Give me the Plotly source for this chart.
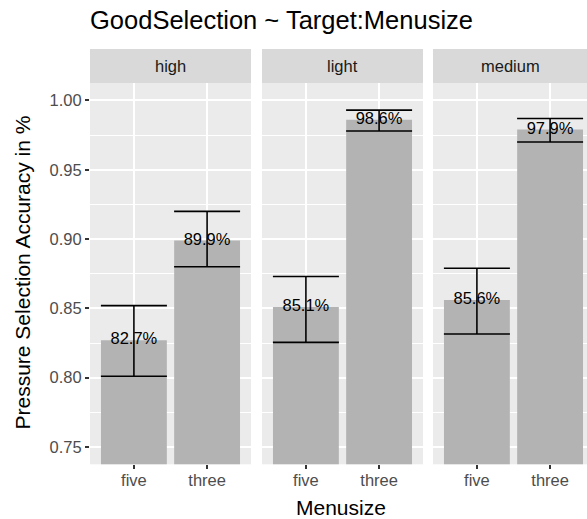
import plotly.graph_objects as go

# Facets (Target) and x categories (Menusize)
targets = ["high", "light", "medium"]
menusize = ["five", "three"]

# Mean selection accuracy per facet
acc_high = [0.827, 0.899]
acc_light = [0.851, 0.986]
acc_medium = [0.856, 0.979]

# Lower / upper ends of the error bars
lo_high = [0.801, 0.880]
hi_high = [0.852, 0.920]
lo_light = [0.8255, 0.978]
hi_light = [0.873, 0.993]
lo_medium = [0.8315, 0.970]
hi_medium = [0.879, 0.987]

y_ticks = [0.75, 0.80, 0.85, 0.90, 0.95, 1.00]

W, H = 587, 519
FONT = "Liberation Sans"
BAR = "#b3b3b3"
PANEL = "#ebebeb"
STRIP = "#d9d9d9"


def px_x(p):
    return p / W


def px_y(p):
    return (H - p) / H


# panel pixel extents (left, right)
panels_px = [(90, 251), (262, 423), (433, 587)]
ybot, ytop = 464.3, 83
strip_top = 49

series = [
    (acc_high, lo_high, hi_high),
    (acc_light, lo_light, hi_light),
    (acc_medium, lo_medium, hi_medium),
]

fig = go.Figure()
layout = dict(
    width=W, height=H,
    margin=dict(l=0, r=0, t=0, b=0),
    paper_bgcolor="white",
    plot_bgcolor=PANEL,
    showlegend=False,
    font=dict(family=FONT, color="#4d4d4d"),
    bargap=0.1,
)

shapes = []
annotations = []
unit_px = (panels_px[0][1] - panels_px[0][0]) / 2.2

for i, (name, (acc, lo, hi)) in enumerate(zip(targets, series)):
    k = "" if i == 0 else str(i + 1)
    xa, ya = "x" + k, "y" + k
    fig.add_trace(go.Bar(
        x=menusize, y=acc, xaxis=xa, yaxis=ya,
        marker=dict(color=BAR, line=dict(width=0)),
        width=0.9,
        error_y=dict(
            type="data", symmetric=False,
            array=[h - a for h, a in zip(hi, acc)],
            arrayminus=[a - l for a, l in zip(acc, lo)],
            color="black", thickness=1.6, width=33,
        ),
        hoverinfo="skip",
    ))
    fig.add_trace(go.Scatter(
        x=menusize, y=acc, xaxis=xa, yaxis=ya,
        mode="text",
        text=[f"{v * 100:.1f}%" for v in acc],
        textposition="middle center",
        textfont=dict(family=FONT, size=16.5, color="black"),
        hoverinfo="skip",
    ))

    left, right = panels_px[i]
    span = (right - left) / unit_px
    layout["xaxis" + k] = dict(
        domain=[px_x(left), min(1.0, px_x(right))],
        range=[-0.6, -0.6 + span],
        type="category",
        showgrid=True, gridcolor="white", gridwidth=1.5,
        ticks="outside", ticklen=4, tickwidth=1.5, tickcolor="#333333",
        tickfont=dict(size=16.5, color="#4d4d4d"),
        ticklabelstandoff=-3,
        showline=False, zeroline=False, fixedrange=True,
        anchor=ya,
    )
    layout["yaxis" + k] = dict(
        domain=[px_y(ybot), px_y(ytop)],
        range=[0.7375, 1.0126],
        tickmode="array", tickvals=y_ticks,
        ticktext=[f"{v:.2f}" for v in y_ticks],
        showticklabels=(i == 0),
        ticks="outside" if i == 0 else "",
        ticklen=4, tickwidth=1.5, tickcolor="#333333",
        tickfont=dict(size=16.5, color="#4d4d4d"),
        showgrid=True, gridcolor="white", gridwidth=1.5,
        minor=dict(tickmode="array",
                   tickvals=[0.775, 0.825, 0.875, 0.925, 0.975],
                   showgrid=True, gridcolor="white", gridwidth=0.7),
        zeroline=False, showline=False, fixedrange=True,
        anchor=xa,
    )
    if i > 0:
        layout["yaxis" + k]["matches"] = "y"

    # facet strip
    shapes.append(dict(
        type="rect", xref="paper", yref="paper",
        x0=px_x(left), x1=min(1.0, px_x(right)),
        y0=px_y(ytop), y1=px_y(strip_top),
        fillcolor=STRIP, line=dict(width=0), layer="below",
    ))
    annotations.append(dict(
        text=name, xref="paper", yref="paper",
        x=px_x((left + min(right, left + 161)) / 2), y=px_y((ytop + strip_top) / 2),
        xanchor="center", yanchor="middle", showarrow=False,
        font=dict(size=16.5, color="#1a1a1a"),
    ))

annotations += [
    dict(text="GoodSelection ~ Target:Menusize", xref="paper", yref="paper",
         x=px_x(88), y=px_y(20), xanchor="left", yanchor="middle",
         showarrow=False, font=dict(size=25.5, color="black")),
    dict(text="Menusize", xref="paper", yref="paper",
         x=px_x(341), y=px_y(507), xanchor="center", yanchor="middle",
         showarrow=False, font=dict(size=21, color="black")),
    dict(text="Pressure Selection Accuracy in %", xref="paper", yref="paper",
         x=px_x(21.5), y=px_y(273), xanchor="center", yanchor="middle",
         textangle=-90, showarrow=False, font=dict(size=21, color="black")),
]

layout["shapes"] = shapes
layout["annotations"] = annotations
fig.update_layout(**layout)
fig.write_html("out.html")
